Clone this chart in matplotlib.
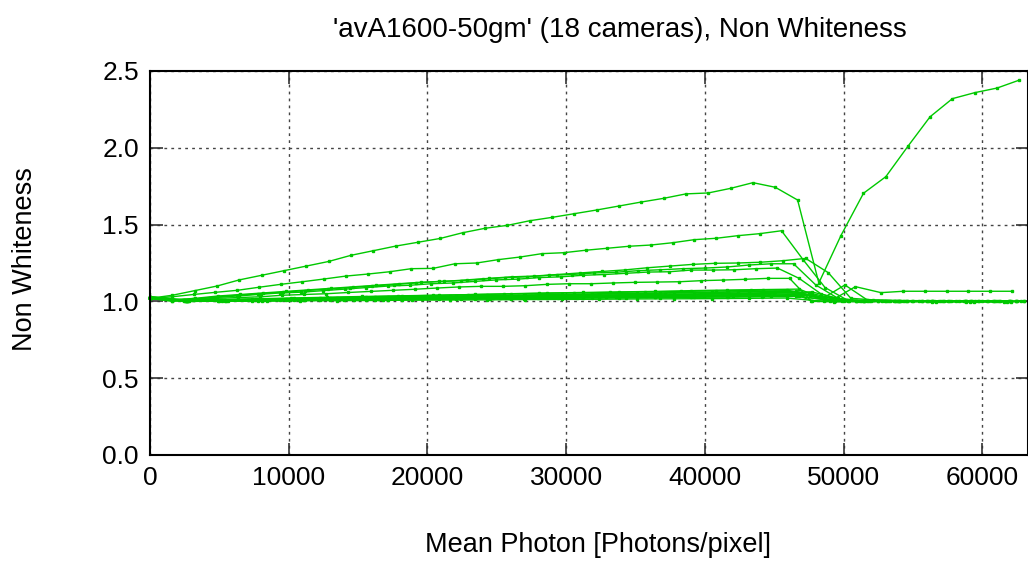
import matplotlib
matplotlib.use("Agg")
import matplotlib.pyplot as plt

plt.rcParams['font.family'] = ['Liberation Sans', 'DejaVu Sans']

# camera curves: mean photon count vs non whiteness
x_a = [0, 1610, 3220, 4830, 6440, 8050, 9660, 11270, 12880, 14490, 16100, 17710, 19320, 20930,
       22540, 24150, 25760, 27370, 28980, 30590, 32200, 33810, 35420, 37030, 38640, 40250, 41860,
       43470, 45080, 46690, 48220, 49810, 51440, 53050, 54660, 56240, 57850, 59460, 61070, 62680]
y_a = [1.02, 1.04, 1.07, 1.10, 1.14, 1.17, 1.20, 1.23, 1.26, 1.30, 1.33, 1.36, 1.385, 1.41,
       1.447, 1.476, 1.495, 1.525, 1.547, 1.571, 1.595, 1.621, 1.647, 1.671, 1.70, 1.706, 1.736,
       1.773, 1.743, 1.66, 1.12, 1.428, 1.704, 1.812, 2.012, 2.202, 2.32, 2.359, 2.389, 2.441]

x_b = [0, 1570, 3140, 4710, 6280, 7850, 9420, 10990, 12560, 14130, 15700, 17270, 18840, 20410,
       21980, 23550, 25120, 26690, 28260, 29830, 31400, 32970, 34540, 36110, 37680, 39250, 40820,
       42390, 43960, 45530, 47100, 48670, 50240, 51810, 53380, 54950, 56520, 58090, 59660, 61230, 62800]
y_b = [1.02, 1.03, 1.045, 1.059, 1.072, 1.092, 1.111, 1.128, 1.146, 1.165, 1.178, 1.193, 1.213, 1.215,
       1.245, 1.25, 1.272, 1.289, 1.311, 1.317, 1.333, 1.346, 1.359, 1.367, 1.382, 1.402, 1.411,
       1.428, 1.441, 1.46, 1.27, 1.09, 1.01, 1.005, 1.003, 1.002, 1.002, 1.001, 1.001, 1.0, 1.0]

x_c = [0, 1630, 3260, 4890, 6520, 8150, 9780, 11410, 13040, 14670, 16300, 17930, 19560, 21190,
       22820, 24450, 26080, 27710, 29340, 30970, 32600, 34230, 35860, 37490, 39120, 40750, 42380,
       44010, 45640, 47270, 48900, 50530, 52160, 53790, 55420, 57050, 58680, 60310, 61940]
y_c = [1.02, 1.01, 1.02, 1.035, 1.045, 1.055, 1.065, 1.075, 1.085, 1.095, 1.105, 1.115, 1.125, 1.13,
       1.14, 1.15, 1.16, 1.165, 1.175, 1.185, 1.195, 1.205, 1.219, 1.23, 1.241, 1.248, 1.25,
       1.255, 1.265, 1.28, 1.187, 1.02, 1.01, 1.005, 1.005, 1.003, 1.003, 1.002, 1.002]

x_d = [0, 1600, 3200, 4800, 6400, 8000, 9600, 11200, 12800, 14400, 16000, 17600, 19200, 20800,
       22400, 24000, 25600, 27200, 28800, 30400, 32000, 33600, 35200, 36800, 38400, 40000, 41600,
       43200, 44800, 46400, 48000, 49600, 51200, 52800, 54400, 56000, 57600, 59200, 60800, 62400]
y_d = [1.02, 1.005, 1.015, 1.03, 1.04, 1.05, 1.06, 1.07, 1.08, 1.09, 1.10, 1.11, 1.12, 1.13,
       1.135, 1.145, 1.155, 1.16, 1.17, 1.175, 1.185, 1.19, 1.20, 1.206, 1.213, 1.217, 1.224,
       1.237, 1.245, 1.245, 1.107, 1.02, 1.005, 1.003, 1.002, 1.002, 1.001, 1.001, 1.0, 1.0]

x_e = [0, 1560, 3120, 4680, 6240, 7800, 9360, 10920, 12480, 14040, 15600, 17160, 18720, 20280,
       21840, 23400, 24960, 26520, 28080, 29640, 31200, 32760, 34320, 35880, 37440, 39000, 40560,
       42120, 43680, 45240, 46800, 48360, 49920, 51480, 53040, 54600, 56160, 57720, 59280, 60840]
y_e = [1.025, 1.01, 1.015, 1.025, 1.035, 1.045, 1.055, 1.06, 1.07, 1.08, 1.09, 1.10, 1.105, 1.115,
       1.12, 1.13, 1.14, 1.145, 1.155, 1.16, 1.17, 1.175, 1.183, 1.191, 1.193, 1.204, 1.204,
       1.206, 1.213, 1.217, 1.15, 1.05, 1.005, 1.003, 1.002, 1.001, 1.001, 1.0, 1.0, 1.0]

x_f = [0, 1590, 3180, 4770, 6360, 7950, 9540, 11130, 12720, 14310, 15900, 17490, 19080, 20670,
       22260, 23850, 25440, 27030, 28620, 30210, 31800, 33390, 34980, 36570, 38160, 39750, 41340,
       42930, 44520, 46110, 47700, 49290, 50880, 52470, 54060, 55650, 57240, 58830, 60420, 62010]
y_f = [1.02, 1.0, 1.01, 1.02, 1.025, 1.03, 1.04, 1.045, 1.05, 1.058, 1.065, 1.072, 1.079, 1.087,
       1.094, 1.098, 1.098, 1.102, 1.111, 1.115, 1.115, 1.12, 1.124, 1.126, 1.128, 1.135, 1.139,
       1.144, 1.15, 1.15, 1.0, 0.998, 1.0, 1.0, 1.0, 1.0, 1.0, 1.0, 1.0, 1.0]

x_g = [0, 2600, 5200, 7800, 10400, 13000, 15600, 18200, 20800, 23400, 26000, 28600, 31200, 33800,
       36400, 39000, 41600, 44200, 46800, 48500, 50100, 51700, 54300, 56900, 59500, 62100]
y_g = [1.025, 1.005, 1.01, 1.015, 1.02, 1.025, 1.03, 1.035, 1.04, 1.045, 1.05, 1.055, 1.058, 1.062,
       1.065, 1.07, 1.074, 1.077, 1.08, 1.02, 1.107, 1.01, 1.005, 1.003, 1.002, 1.002]

x_h = [0, 2550, 5100, 7650, 10200, 12750, 15300, 17850, 20400, 22950, 25500, 28050, 30600, 33150,
       35700, 38250, 40800, 43350, 45900, 47600, 49200, 50860, 52700, 54320, 55900, 57440, 59000,
       60590, 62160]
y_h = [1.03, 1.01, 1.012, 1.017, 1.022, 1.027, 1.032, 1.036, 1.04, 1.044, 1.048, 1.052, 1.055, 1.058,
       1.062, 1.065, 1.068, 1.072, 1.075, 1.04, 1.01, 1.096, 1.057, 1.066, 1.066, 1.066, 1.066,
       1.066, 1.066]

x_i = [0, 2700, 5400, 8100, 10800, 13500, 16200, 18900, 21600, 24300, 27000, 29700, 32400, 35100,
       37800, 40500, 43200, 45900, 47670, 49300, 51000, 53700, 56400, 59100, 61800]
y_i = [1.02, 1.0, 1.008, 1.013, 1.018, 1.022, 1.027, 1.031, 1.035, 1.039, 1.042, 1.046, 1.05, 1.053,
       1.057, 1.06, 1.064, 1.07, 1.005, 1.0, 1.0, 1.0, 0.998, 0.998, 0.998]

x_j = [0, 2450, 4900, 7350, 9800, 12250, 14700, 17150, 19600, 22050, 24500, 26950, 29400, 31850,
       34300, 36750, 39200, 41650, 44100, 46550, 49000, 51450, 53900, 56350, 58800, 61250, 63000]
y_j = [1.03, 1.008, 1.01, 1.013, 1.016, 1.02, 1.024, 1.027, 1.03, 1.033, 1.036, 1.04, 1.043, 1.046,
       1.05, 1.053, 1.056, 1.06, 1.063, 1.066, 1.005, 1.003, 1.002, 1.002, 1.001, 1.001, 1.0]

x_k = [0, 2650, 5300, 7950, 10600, 13250, 15900, 18550, 21200, 23850, 26500, 29150, 31800, 34450,
       37100, 39750, 42400, 45050, 47700, 50350, 53000, 55650, 58300, 60950]
y_k = [1.02, 1.004, 1.007, 1.011, 1.015, 1.018, 1.022, 1.025, 1.029, 1.032, 1.035, 1.038, 1.041, 1.044,
       1.047, 1.05, 1.054, 1.058, 1.062, 1.004, 1.002, 1.001, 1.0, 1.0]

x_l = [0, 2500, 5000, 7500, 10000, 12500, 15000, 17500, 20000, 22500, 25000, 27500, 30000, 32500,
       35000, 37500, 40000, 42500, 45000, 47500, 50000, 52500, 55000, 57500, 60000, 62500]
y_l = [1.025, 1.003, 1.005, 1.008, 1.011, 1.014, 1.017, 1.02, 1.023, 1.026, 1.029, 1.032, 1.035, 1.038,
       1.04, 1.043, 1.046, 1.05, 1.053, 1.056, 1.003, 1.002, 1.001, 1.001, 1.0, 1.0]

x_m = [0, 2750, 5500, 8250, 11000, 13750, 16500, 19250, 22000, 24750, 27500, 30250, 33000, 35750,
       38500, 41250, 44000, 46750, 48400, 50900, 53650, 56400, 59150, 61900]
y_m = [1.02, 1.002, 1.004, 1.007, 1.01, 1.013, 1.016, 1.019, 1.022, 1.025, 1.028, 1.031, 1.034, 1.037,
       1.04, 1.043, 1.046, 1.05, 1.03, 1.003, 1.001, 1.0, 1.0, 1.0]

x_n = [0, 2350, 4700, 7050, 9400, 11750, 14100, 16450, 18800, 21150, 23500, 25850, 28200, 30550,
       32900, 35250, 37600, 39950, 42300, 44650, 47000, 49350, 51700, 54050, 56400, 58750, 61100, 63000]
y_n = [1.03, 1.006, 1.007, 1.009, 1.011, 1.013, 1.015, 1.017, 1.019, 1.021, 1.023, 1.025, 1.027, 1.029,
       1.031, 1.033, 1.035, 1.037, 1.04, 1.042, 1.045, 1.0, 1.002, 1.001, 1.001, 1.0, 1.0, 1.0]

x_o = [0, 2800, 5600, 8400, 11200, 14000, 16800, 19600, 22400, 25200, 28000, 30800, 33600, 36400,
       39200, 42000, 44800, 47600, 50400, 53200, 56000, 58800, 61600]
y_o = [1.02, 1.0, 1.003, 1.005, 1.007, 1.01, 1.012, 1.015, 1.017, 1.02, 1.022, 1.025, 1.027, 1.03,
       1.032, 1.035, 1.038, 1.04, 1.002, 1.0, 1.0, 0.999, 0.999]

x_p = [0, 2600, 5200, 7800, 10400, 13000, 15600, 18200, 20800, 23400, 26000, 28600, 31200, 33800,
       36400, 39000, 41600, 44200, 46800, 49400, 52000, 54600, 57200, 59800, 62400]
y_p = [1.025, 1.0, 1.002, 1.004, 1.006, 1.008, 1.01, 1.012, 1.014, 1.016, 1.018, 1.02, 1.022, 1.024,
       1.026, 1.028, 1.03, 1.033, 1.035, 1.0, 1.0, 1.0, 1.0, 1.0, 1.0]

x_q = [0, 2450, 4900, 7350, 9800, 12250, 14700, 17150, 19600, 22050, 24500, 26950, 29400, 31850,
       34300, 36750, 39200, 41650, 44100, 46550, 49000, 51450, 53900]
y_q = [1.03, 1.005, 1.004, 1.005, 1.007, 1.008, 1.01, 1.012, 1.013, 1.015, 1.017, 1.018, 1.02, 1.022,
       1.023, 1.025, 1.027, 1.028, 1.03, 1.032, 1.01, 1.0, 1.0]

x_r = [0, 2700, 5400, 8100, 10800, 13500, 16200, 18900, 21600, 24300, 27000, 29700, 32400, 35100,
       37800, 40500, 43200, 45900, 48600, 51300, 54000, 56700, 59400, 62100]
y_r = [1.02, 1.0, 1.001, 1.002, 1.004, 1.005, 1.006, 1.008, 1.009, 1.01, 1.012, 1.013, 1.014, 1.016,
       1.017, 1.018, 1.02, 1.022, 1.0, 1.0, 1.0, 0.999, 0.999, 0.999]

cameras = [(x_a, y_a), (x_b, y_b), (x_c, y_c), (x_d, y_d), (x_e, y_e), (x_f, y_f),
           (x_g, y_g), (x_h, y_h), (x_i, y_i), (x_j, y_j), (x_k, y_k), (x_l, y_l),
           (x_m, y_m), (x_n, y_n), (x_o, y_o), (x_p, y_p), (x_q, y_q), (x_r, y_r)]

fig = plt.figure(figsize=(10.28, 5.63), dpi=100)
ax = fig.add_axes([150 / 1028, 1 - 455 / 563, 878 / 1028, 384 / 563])

for xs, ys in cameras:
    ax.plot(xs, ys, color='#00c800', lw=1.0, marker='s', ms=1.7, mec='#00c800', clip_on=False)

ax.set_xlim(0, 63300)
ax.set_ylim(0, 2.5)
ax.set_xticks([0, 10000, 20000, 30000, 40000, 50000, 60000])
ax.set_yticks([0.0, 0.5, 1.0, 1.5, 2.0, 2.5])
ax.set_yticklabels(['0.0', '0.5', '1.0', '1.5', '2.0', '2.5'])
ax.tick_params(direction='in', length=9, width=1.2, labelsize=19, pad=8,
               top=True, right=True, color='#333333')
ax.grid(True, color='#444444', linestyle=(0, (2, 3)), lw=1.0)
for s in ax.spines.values():
    s.set_linewidth(1.5)
    s.set_color('black')

ax.set_xlabel('Mean Photon [Photons/pixel]', fontsize=19.5)
ax.xaxis.set_label_coords(0.51, -0.2)
ax.set_ylabel('Non Whiteness', fontsize=19.5)
ax.yaxis.set_label_coords(-0.128, 0.51)
fig.text(620 / 1028, 1 - 30 / 563, "'avA1600-50gm' (18 cameras), Non Whiteness",
         fontsize=20, ha='center', va='center')

fig.savefig('out.png', dpi=100)
